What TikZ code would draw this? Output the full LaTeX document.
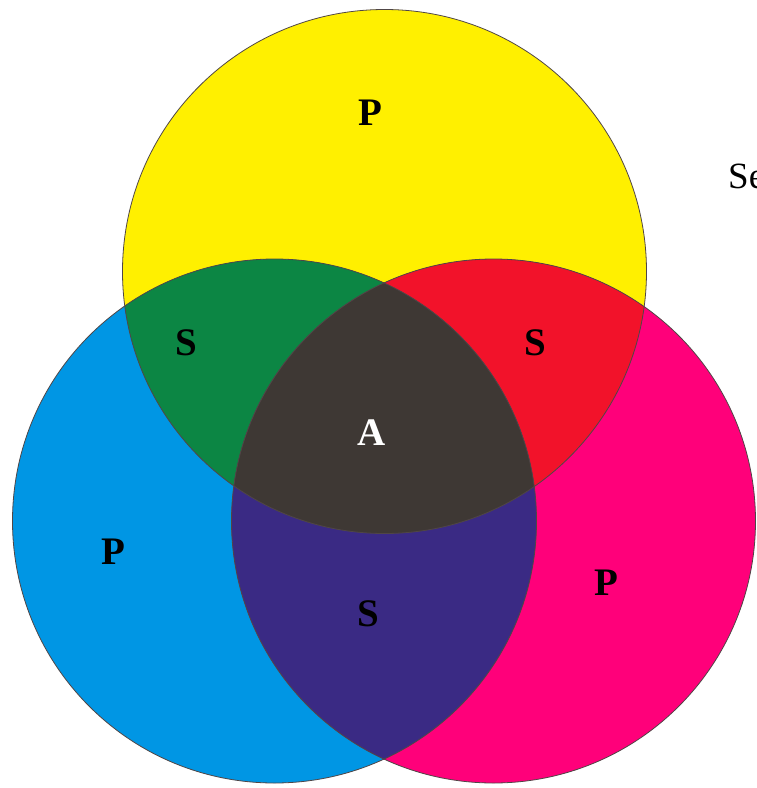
\documentclass[tikz,border=0pt]{standalone}
\usepackage{fontspec}
\setmainfont{Liberation Serif}
\definecolor{cyel}{RGB}{255,240,0}
\definecolor{ccya}{RGB}{0,150,228}
\definecolor{cmag}{RGB}{255,0,122}
\definecolor{cgrn}{RGB}{12,134,68}
\definecolor{cred}{RGB}{242,18,42}
\definecolor{cblk}{RGB}{62,56,52}
\definecolor{cpur}{RGB}{58,42,132}
\definecolor{cedge}{RGB}{80,70,70}
\tikzset{
  edge/.style={draw=cedge, line width=0.8pt},
  lbl/.style={inner sep=0pt, font=\fontsize{39}{39}\selectfont\bfseries},
}
\begin{document}
\begin{tikzpicture}[x=1pt,y=-1pt]
\useasboundingbox (0,0) rectangle (756,788);
\fill[white] (0,0) rectangle (756,788);
\coordinate (Y) at (384.5,271.5);
\coordinate (C) at (274.5,521);
\coordinate (M) at (493.5,521);
\fill[cyel] (Y) circle[radius=262pt];
\fill[ccya] (C) circle[radius=262pt];
\fill[cmag] (M) circle[radius=262pt];
\begin{scope}
  \clip (Y) circle[radius=262pt];
  \fill[cgrn] (C) circle[radius=262pt];
  \fill[cred] (M) circle[radius=262pt];
\end{scope}
\begin{scope}
  \clip (C) circle[radius=262pt];
  \fill[cpur] (M) circle[radius=262pt];
\end{scope}
\begin{scope}
  \clip (Y) circle[radius=262pt];
  \clip (C) circle[radius=262pt];
  \fill[cblk] (M) circle[radius=262pt];
\end{scope}
\draw[edge] (Y) circle[radius=262pt];
\draw[edge] (C) circle[radius=262pt];
\draw[edge] (M) circle[radius=262pt];
\node[lbl] (py) at (370,113) {P};
\node[lbl] (sg) at (186,343) {S};
\node[lbl] (sr) at (535,343) {S};
\node[lbl, text=white] (a) at (372,433) {A};
\node[lbl] (pc) at (113,552) {P};
\node[lbl] (sp) at (368,614) {S};
\node[lbl] (pm) at (606,583) {P};
\begin{scope}
  \clip (0,0) rectangle (756,788);
  \node[inner sep=0pt, anchor=base west, font=\fontsize{37}{37}\selectfont] (se) at (728,188) {Se};
\end{scope}
\end{tikzpicture}
\end{document}
